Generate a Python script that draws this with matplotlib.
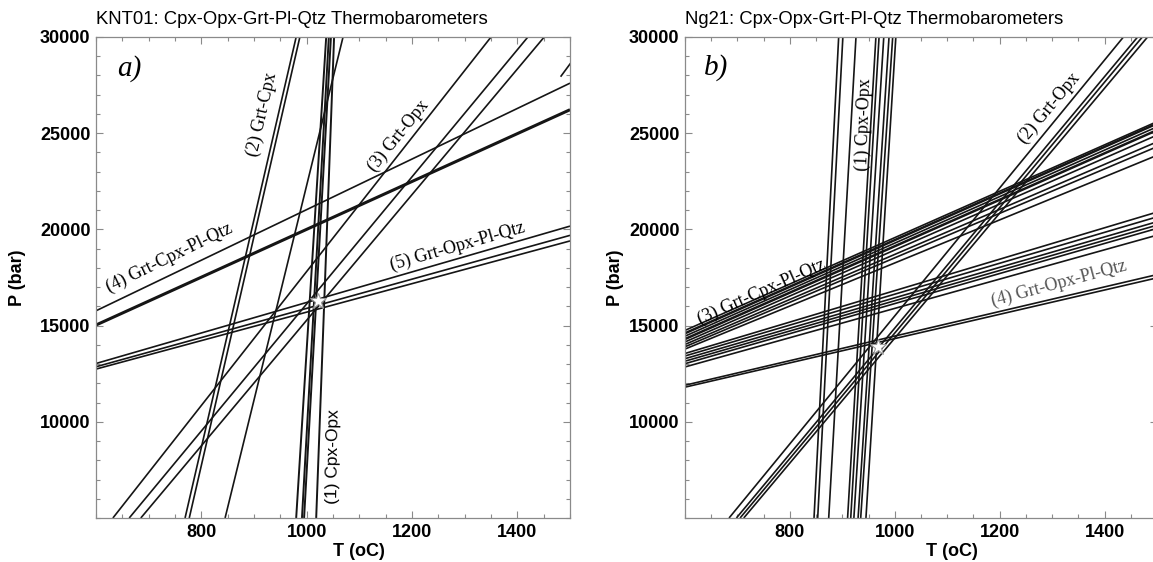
import matplotlib
matplotlib.use("Agg")
import matplotlib.pyplot as plt
from matplotlib.ticker import MultipleLocator, FixedLocator

# steep lines are given as T at P_LOW and at P_HIGH,
# shallow lines as P at T_LOW and at T_HIGH
P_LOW, P_HIGH = 5000, 30000
T_LOW, T_HIGH = 600, 1500

# ---- a) KNT01 ----
a_cpxopx_bot = [980, 991, 995, 1018]
a_cpxopx_top = [1037, 1042, 1046, 1052]
a_grtcpx_bot = [769, 777, 845]
a_grtcpx_top = [980, 987, 1069]
a_grtopx_bot = [632, 663, 685]
a_grtopx_top = [1350, 1420, 1451]
a_gcpq_left = [15770, 15030]
a_gcpq_right = [27600, 26220]
a_gcpq_lw = [1.2, 2.2]
a_gopq_left = [13030, 12860, 12740]
a_gopq_right = [20170, 19690, 19400]
a_stub_T = [1483, 1500]
a_stub_P = [27970, 28600]
a_star = (1022, 16300)

# ---- b) Ng21 ----
b_cpxopx_bot = [846, 853, 874, 910, 916, 922, 930, 935, 945]
b_cpxopx_top = [893, 901, 926, 964, 970, 979, 989, 996, 1002]
b_grtopx_bot = [684, 698, 705, 712]
b_grtopx_top = [1436, 1463, 1472, 1482]
b_gcpq_left = [14750, 14600, 14450, 14300, 14150, 14020, 13900, 13780]
b_gcpq_right = [25600, 25500, 25330, 25160, 24900, 24550, 24300, 23850]
b_gcpq_lw = [1.2, 1.8, 1.2, 1.8, 1.2, 1.2, 1.2, 1.2]
b_gopq_left = [13550, 13420, 13280, 13150, 13020, 12850, 11900, 11800]
b_gopq_right = [20900, 20650, 20400, 20220, 20050, 19700, 17650, 17480]
b_star = (968, 13880)

LINE = "#151515"
FRAME = "#8a8a8a"
plt.rcParams["font.family"] = ["Liberation Sans", "DejaVu Sans"]


def steep(ax, bot, top, lw=1.2):
    for b, t in zip(bot, top):
        ax.plot([b, t], [P_LOW, P_HIGH], color=LINE, lw=lw, solid_capstyle="butt")


def shallow(ax, left, right, lws=None):
    for i, (l, r) in enumerate(zip(left, right)):
        lw = lws[i] if lws else 1.2
        ax.plot([T_LOW, T_HIGH], [l, r], color=LINE, lw=lw, solid_capstyle="butt")


def style_axes(ax, title, xlab_x, ylab_x):
    ax.set_xlim(T_LOW, T_HIGH)
    ax.set_ylim(P_LOW, P_HIGH)
    ax.xaxis.set_major_locator(FixedLocator([800, 1000, 1200, 1400]))
    ax.xaxis.set_minor_locator(MultipleLocator(50))
    ax.yaxis.set_major_locator(FixedLocator([10000, 15000, 20000, 25000, 30000]))
    ax.yaxis.set_minor_locator(MultipleLocator(1000))
    ax.tick_params(which="both", direction="in", top=True, right=True, color=FRAME, width=0.8)
    ax.tick_params(which="major", length=5, labelsize=13, pad=4)
    ax.tick_params(which="minor", length=3)
    for lab in ax.get_xticklabels() + ax.get_yticklabels():
        lab.set_fontweight("bold")
    for sp in ax.spines.values():
        sp.set_color(FRAME)
        sp.set_linewidth(0.9)
    ax.set_title(title, loc="left", fontsize=13.3, pad=9)
    ax.set_xlabel("T (oC)", fontsize=13, fontweight="bold")
    ax.set_ylabel("P (bar)", fontsize=13, fontweight="bold")
    ax.xaxis.set_label_coords(xlab_x, -0.052)
    ax.yaxis.set_label_coords(ylab_x, 0.5)


serif = ["Liberation Serif", "DejaVu Serif"]

fig = plt.figure(figsize=(11.53, 5.62), dpi=100)
ax_a = fig.add_axes([0.0833, 0.0783, 0.4111, 0.8559])
ax_b = fig.add_axes([0.5941, 0.0783, 0.4094, 0.8559])

# panel a
steep(ax_a, a_grtcpx_bot, a_grtcpx_top)
steep(ax_a, a_grtopx_bot, a_grtopx_top)
steep(ax_a, a_cpxopx_bot, a_cpxopx_top, lw=1.4)
shallow(ax_a, a_gcpq_left, a_gcpq_right, a_gcpq_lw)
shallow(ax_a, a_gopq_left, a_gopq_right)
ax_a.plot(a_stub_T, a_stub_P, color=LINE, lw=1.2)
ax_a.plot(*a_star, marker="*", ms=12, mfc="white", mec="#9a9a9a", mew=0.8)
style_axes(ax_a, "KNT01: Cpx-Opx-Grt-Pl-Qtz Thermobarometers", 0.555, -0.148)

ax_a.text(663, 28350, "a)", fontsize=21, style="italic", family=serif, ha="center", va="center")
ax_a.text(915, 25980, "(2) Grt-Cpx", fontsize=13, family=serif, rotation=77, ha="center", va="center")
ax_a.text(1175, 24845, "(3) Grt-Opx", fontsize=13, family=serif, rotation=51, ha="center", va="center")
ax_a.text(740, 18500, "(4) Grt-Cpx-Pl-Qtz", fontsize=13, family=serif, rotation=26, ha="center", va="center")
ax_a.text(1287, 19120, "(5) Grt-Opx-Pl-Qtz", fontsize=13, family=serif, rotation=16, ha="center", va="center")
ax_a.text(1050, 8200, "(1) Cpx-Opx", fontsize=12.5, rotation=89, ha="center", va="center")

# panel b
steep(ax_b, b_grtopx_bot, b_grtopx_top)
steep(ax_b, b_cpxopx_bot, b_cpxopx_top)
shallow(ax_b, b_gcpq_left, b_gcpq_right, b_gcpq_lw)
shallow(ax_b, b_gopq_left, b_gopq_right)
ax_b.plot(*b_star, marker="*", ms=12, mfc="white", mec="#9a9a9a", mew=0.8)
style_axes(ax_b, "Ng21: Cpx-Opx-Grt-Pl-Qtz Thermobarometers", 0.566, -0.129)

ax_b.text(659, 28400, "b)", fontsize=21, style="italic", family=serif, ha="center", va="center")
ax_b.text(941, 25430, "(1) Cpx-Opx", fontsize=13, family=serif, rotation=88, ha="center", va="center")
ax_b.text(1295, 26300, "(2) Grt-Opx", fontsize=13, family=serif, rotation=50, ha="center", va="center")
ax_b.text(747, 16745, "(3) Grt-Cpx-Pl-Qtz", fontsize=13, family=serif, rotation=24, ha="center", va="center")
ax_b.text(1314, 17200, "(4) Grt-Opx-Pl-Qtz", fontsize=13, family=serif, rotation=15,
          ha="center", va="center", color="#555555")

fig.savefig("out.png", dpi=100)
